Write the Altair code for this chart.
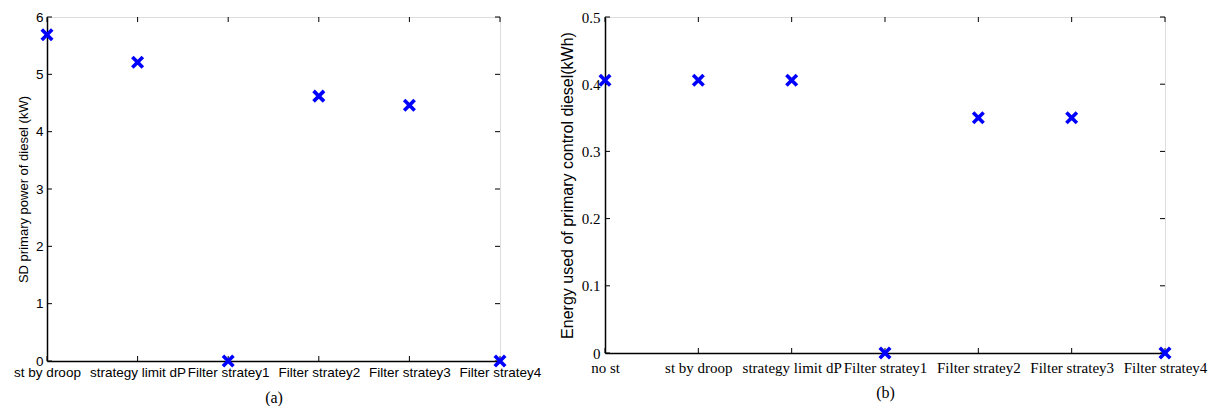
import altair as alt
import pandas as pd

cats_a = ["st by droop", "strategy limit dP", "Filter stratey1", "Filter stratey2",
          "Filter stratey3", "Filter stratey4"]
vals_a = [5.69, 5.21, 0.0, 4.62, 4.46, 0.0]
yticks_a = [0, 1, 2, 3, 4, 5, 6]

cats_b = ["no st", "st by droop", "strategy limit dP", "Filter stratey1",
          "Filter stratey2", "Filter stratey3", "Filter stratey4"]
vals_b = [0.406, 0.406, 0.406, 0.0, 0.350, 0.350, 0.0]
yticks_b = [0, 0.1, 0.2, 0.3, 0.4, 0.5]

XPATH = "M-1,-1L1,1M-1,1L1,-1"
BLUE = "#0000ff"


def panel(cats, vals, yticks, ydom, W, H, ytitle, caption, lab_font, lab_size,
          ttl_font, ttl_size, yfmt, lab_pad_x, lab_pad_y, ttl_pad_x, ttl_pad_y):
    df = pd.DataFrame({"cat": cats, "val": vals})
    dcat = pd.DataFrame({"cat": cats})
    dy = pd.DataFrame({"v": yticks})
    xs = alt.Scale(type="point", padding=0, domain=cats)
    ys = alt.Scale(domain=ydom, nice=False, zero=False)

    pts = alt.Chart(df).mark_point(
        shape=XPATH, stroke=BLUE, strokeWidth=3.6, filled=False, size=110, opacity=1
    ).encode(
        x=alt.X("cat:N", scale=xs, sort=cats,
                axis=alt.Axis(title=caption, labelAngle=0, labelAlign="center",
                              labelBaseline="top", labelFont=lab_font,
                              labelFontSize=lab_size, labelColor="black",
                              labelOverlap=False, ticks=False, labelPadding=lab_pad_x,
                              domainColor="black", domainWidth=1.5,
                              titleFont="Liberation Serif", titleFontSize=16,
                              titleFontWeight="normal", titleColor="black",
                              titlePadding=ttl_pad_x)),
        y=alt.Y("val:Q", scale=ys,
                axis=alt.Axis(title=ytitle, values=yticks, format=yfmt, grid=False,
                              ticks=False, labelFont=lab_font, labelFontSize=lab_size,
                              labelColor="black", labelPadding=lab_pad_y,
                              domainColor="black", domainWidth=1.5,
                              titleFont=ttl_font, titleFontSize=ttl_size,
                              titleFontWeight="normal", titleColor="black",
                              titlePadding=ttl_pad_y)),
    )
    tb = alt.Chart(dcat).mark_rule(color="black", strokeWidth=1).encode(
        x=alt.X("cat:N", scale=xs, sort=cats), y=alt.value(H), y2=alt.value(H - 5))
    tt = alt.Chart(dcat).mark_rule(color="black", strokeWidth=1).encode(
        x=alt.X("cat:N", scale=xs, sort=cats), y=alt.value(0), y2=alt.value(5))
    tl = alt.Chart(dy).mark_rule(color="black", strokeWidth=1).encode(
        y=alt.Y("v:Q", scale=ys), x=alt.value(0), x2=alt.value(5))
    tr = alt.Chart(dy).mark_rule(color="black", strokeWidth=1).encode(
        y=alt.Y("v:Q", scale=ys), x=alt.value(W - 5), x2=alt.value(W))
    return alt.layer(tb, tt, tl, tr, pts).properties(width=W, height=H)


pa = panel(cats_a, vals_a, yticks_a, [0, 6], 453, 344,
           "SD primary power of diesel (kW)", "(a)",
           "Liberation Sans", 13.5, "Liberation Sans", 13, "d", 4, 4, 11, 5)
pb = panel(cats_b, vals_b, yticks_b, [0, 0.5], 560, 336,
           "Energy used of primary control diesel(kWh)", "(b)",
           "Liberation Sans Narrow", 15, "Liberation Sans", 16, "~g", 7, 5, 9, 6)

chart = alt.hconcat(pa, pb, spacing=16).properties(
    padding={"left": 5, "top": 1, "right": 0, "bottom": 0}
).configure_view(stroke="black", strokeWidth=1.5).configure(background="white")

chart.save("out.html", embed_options={"renderer": "svg", "actions": False})
